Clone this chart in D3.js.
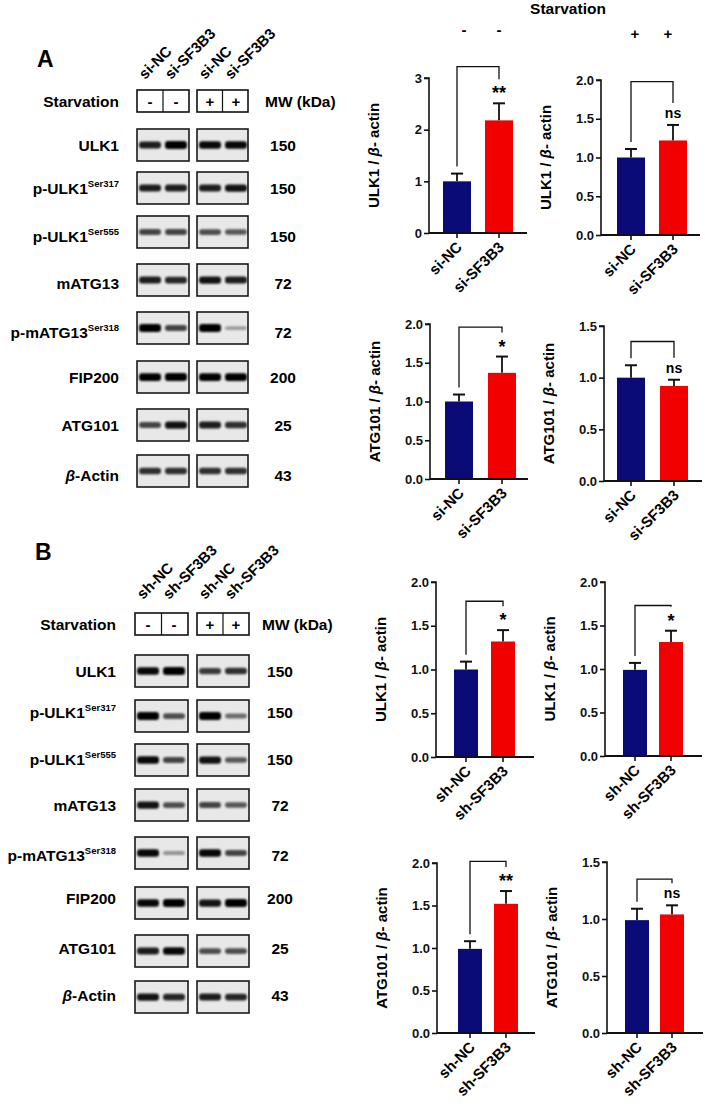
<!DOCTYPE html>
<html><head><meta charset="utf-8">
<script src="https://cdn.jsdelivr.net/npm/d3@7"></script>
<style>body{margin:0;background:#fff}svg{font-family:"Liberation Sans",Arial,sans-serif;font-weight:bold}</style>
</head><body><svg id="c" width="705" height="1110"></svg>
<script>
// ---------- data ----------
const laneLabelsA = ["si-NC","si-SF3B3","si-NC","si-SF3B3"];
const laneLabelsB = ["sh-NC","sh-SF3B3","sh-NC","sh-SF3B3"];
const starvationSigns = ["-","-","+","+"];
const proteins = ["ULK1","p-ULK1|Ser317","p-ULK1|Ser555","mATG13","p-mATG13|Ser318","FIP200","ATG101","β-Actin"];
const mwValues = ["150","150","150","72","72","200","25","43"];
const bandsA = [[.8,1,.9,.9],[.8,.8,.8,.85],[.6,.6,.55,.5],[.8,.75,.85,.8],[1,.6,1,.15],[.95,1,.95,.95],[.6,.85,.8,.7],[.7,.7,.7,.7]];
const bandsB = [[.9,1,.65,.7],[1,.55,1,.4],[.9,.6,.85,.5],[.85,.55,.6,.5],[.9,.2,.9,.6],[.9,1,.85,1],[.8,.9,.55,.55],[.85,.75,.8,.75]];

const barCatsA = ["si-NC","si-SF3B3"];
const barCatsB = ["sh-NC","sh-SF3B3"];
const yLabels = ["ULK1","ATG101","ULK1","ATG101"];
const means = [[[1.0,2.18],[1.0,1.22]],[[1.0,1.37],[1.0,0.92]],[[1.0,1.32],[0.99,1.31]],[[0.99,1.52],[0.99,1.04]]];
const errs  = [[[0.15,0.33],[0.11,0.20]],[[0.09,0.21],[0.12,0.06]],[[0.09,0.13],[0.08,0.13]],[[0.09,0.15],[0.10,0.08]]];
const yMax  = [[3,2],[2,1.5],[2,2],[2,1.5]];
const yTicks = [[[0,1,2,3],[0,0.5,1,1.5,2]],[[0,0.5,1,1.5,2],[0,0.5,1,1.5]],[[0,0.5,1,1.5,2],[0,0.5,1,1.5,2]],[[0,0.5,1,1.5,2],[0,0.5,1,1.5]]];
const bracketTop = [[3.22,1.98],[1.96,1.35],[1.78,1.73],[2.02,1.35]];
const sigLabels = [["**","ns"],["*","ns"],["*","*"],["**","ns"]];

// ---------- drawing ----------
const svg = d3.select("#c");
const defs = svg.append("defs");
defs.append("filter").attr("id","blur").attr("x","-30%").attr("y","-100%").attr("width","160%").attr("height","300%")
  .append("feGaussianBlur").attr("stdDeviation",1.0);

function blot(cfg){
  const g = svg.append("g");
  g.append("text").attr("x",cfg.letterX).attr("y",cfg.letterY).attr("font-size",23).text(cfg.letter);
  const laneX = [cfg.lx[0]+13,cfg.lx[0]+39,cfg.rx[0]+13,cfg.rx[0]+39];
  cfg.labels.forEach((l,i)=>{
    g.append("text").attr("transform",`translate(${laneX[i]-5},${cfg.labY}) rotate(-45)`).attr("font-size",15).text(l);
  });
  g.append("text").attr("x",cfg.labelRight).attr("y",cfg.starY+5.5).attr("text-anchor","end").attr("font-size",15.5).text("Starvation");
  g.append("text").attr("x",cfg.mwX).attr("y",cfg.starY+5.5).attr("font-size",15.5).text("MW (kDa)");
  [cfg.lx,cfg.rx].forEach(b=>{
    g.append("rect").attr("x",b[0]).attr("y",cfg.starY-11).attr("width",b[1]-b[0]).attr("height",22).attr("fill","#fff").attr("stroke","#111").attr("stroke-width",1.6);
    g.append("line").attr("x1",(b[0]+b[1])/2).attr("x2",(b[0]+b[1])/2).attr("y1",cfg.starY-11).attr("y2",cfg.starY+11).attr("stroke","#111").attr("stroke-width",1.2);
  });
  starvationSigns.forEach((s,i)=>g.append("text").attr("x",laneX[i]).attr("y",cfg.starY+5.5).attr("text-anchor","middle").attr("font-size",15).text(s));
  proteins.forEach((p,r)=>{
    const cy = cfg.rows[r];
    const parts = p.split("|");
    const t = g.append("text").attr("x",cfg.labelRight).attr("y",cfg.rowsLab[r]+5.5).attr("text-anchor","end").attr("font-size",15.5);
    if(parts[0].startsWith("β")){
      t.append("tspan").attr("font-style","italic").text("β");
      t.append("tspan").text(parts[0].slice(1));
    } else t.append("tspan").text(parts[0]);
    if(parts[1]) t.append("tspan").attr("font-size",9.5).attr("dy",-7).text(parts[1]);
    g.append("text").attr("x",cfg.mwNumX).attr("y",cfg.rowsLab[r]+5.5).attr("text-anchor","middle").attr("font-size",15.5).text(mwValues[r]);
    [cfg.lx,cfg.rx].forEach((b,bi)=>{
      g.append("rect").attr("x",b[0]).attr("y",cy-16).attr("width",b[1]-b[0]).attr("height",32).attr("fill","#e8e8e8").attr("stroke","#1a1a1a").attr("stroke-width",1.6);
      [0,1].forEach(k=>{
        const li = bi*2+k, v = cfg.bands[r][li];
        g.append("rect").attr("x",laneX[li]-11).attr("y",cy-1.5-2.5*v).attr("width",22).attr("height",3+5*v)
          .attr("rx",3).attr("fill","#000").attr("opacity",Math.min(1,0.2+0.85*v)).attr("filter","url(#blur)");
      });
    });
  });
}
blot({letter:"A",letterX:37,letterY:67,labels:laneLabelsA,labY:80,lx:[137,189],rx:[197,248],starY:101,labelRight:119,mwX:265,mwNumX:283,
  rows:[145,188,232,280,328,377,425,471],rowsLab:[145,188,236,283,332,377,425,475],bands:bandsA});
blot({letter:"B",letterX:35,letterY:560,labels:laneLabelsB,labY:600,lx:[135,188],rx:[197,249],starY:624,labelRight:116,mwX:262,mwNumX:280,
  rows:[671,716,760,805,853,903,951,997],rowsLab:[671,712,759,805,855,898,948,995],bands:bandsB});

const chartPos = [
  [{ax:429,top:78,zero:233,end:527,bx:[443,485]},{ax:601,top:80,zero:235,end:700,bx:[617,659]}],
  [{ax:430,top:324,zero:479,end:528,bx:[445,488]},{ax:604,top:326,zero:481,end:702,bx:[617,660]}],
  [{ax:436,top:582,zero:757,end:534,bx:[454,491]},{ax:605,top:582,zero:756,end:702,bx:[623,659]}],
  [{ax:437,top:863,zero:1033,end:535,bx:[458,494]},{ax:607,top:862,zero:1033,end:703,bx:[625,660]}]];
const colors = ["#0b0b78","#f20000"];
chartPos.forEach((row,pi)=>row.forEach((p,ci)=>{
  const g = svg.append("g");
  const y = d3.scaleLinear().domain([0,yMax[pi][ci]]).range([p.zero,p.top]);
  const bw = pi>=2?24:28;
  const cats = pi>=2?barCatsB:barCatsA;
  const x = d3.scaleOrdinal().domain(cats).range(p.bx.map(v=>v+bw/2));
  const fmt = yMax[pi][ci]===3?d3.format("d"):d3.format(".1f");
  const ya = g.append("g").attr("transform",`translate(${p.ax},0)`).call(d3.axisLeft(y).tickValues(yTicks[pi][ci]).tickFormat(fmt).tickSize(5).tickPadding(2));
  ya.selectAll("text").attr("font-size",13).attr("font-weight","bold").attr("font-family","Liberation Sans, Arial").attr("fill","#111");
  ya.selectAll("line,path").attr("stroke","#111").attr("stroke-width",1.6);
  ya.select(".domain").attr("d",`M-5,${p.top}H0V${p.zero}`);
  cats.forEach((c,i)=>{
    const m = means[pi][ci][i], e = errs[pi][ci][i], cx = x(c);
    g.append("line").attr("x1",cx).attr("x2",cx).attr("y1",y(m)).attr("y2",y(m+e)).attr("stroke","#111").attr("stroke-width",1.8);
    g.append("line").attr("x1",cx-6).attr("x2",cx+6).attr("y1",y(m+e)).attr("y2",y(m+e)).attr("stroke","#111").attr("stroke-width",2);
    g.append("rect").attr("x",cx-bw/2).attr("y",y(m)).attr("width",bw).attr("height",p.zero-y(m)).attr("fill",colors[i]);
    g.append("line").attr("x1",cx).attr("x2",cx).attr("y1",p.zero).attr("y2",p.zero+5).attr("stroke","#111").attr("stroke-width",1.6);
    g.append("text").attr("transform",`translate(${cx+6},${p.zero+15}) rotate(-45)`).attr("text-anchor","end").attr("font-size",15).text(c);
  });
  g.append("line").attr("x1",p.ax).attr("x2",p.end).attr("y1",p.zero).attr("y2",p.zero).attr("stroke","#111").attr("stroke-width",1.8);
  const x0 = x(cats[0]), x1 = x(cats[1]);
  const top = y(bracketTop[pi][ci]);
  const l0 = y(means[pi][ci][0]+errs[pi][ci][0])-7;
  const s = sigLabels[pi][ci];
  const l1 = y(means[pi][ci][1]+errs[pi][ci][1])-(s==="ns"?22:24);
  g.append("path").attr("d",`M${x0},${l0}V${top}H${x1}V${l1}`).attr("fill","none").attr("stroke","#111").attr("stroke-width",1.3);
  g.append("text").attr("x",x1).attr("y",s==="ns"?l1+15:l1+20).attr("text-anchor","middle").attr("font-size",s==="ns"?14:18).text(s);
  const yl = g.append("text").attr("transform",`translate(${p.ax-50},${(p.top+p.zero)/2}) rotate(-90)`).attr("text-anchor","middle").attr("font-size",15);
  yl.append("tspan").text(yLabels[pi]+" / ");
  yl.append("tspan").attr("font-style","italic").text("β");
  yl.append("tspan").text("- actin");
}));
svg.append("text").attr("x",568).attr("y",14).attr("text-anchor","middle").attr("font-size",15.5).text("Starvation");
[[464,"-"],[499,"-"],[635,"+"],[668,"+"]].forEach((d,i)=>svg.append("text").attr("x",d[0]).attr("y",i<2?35:39).attr("text-anchor","middle").attr("font-size",15).text(starvationSigns[i]));
</script></body></html>
